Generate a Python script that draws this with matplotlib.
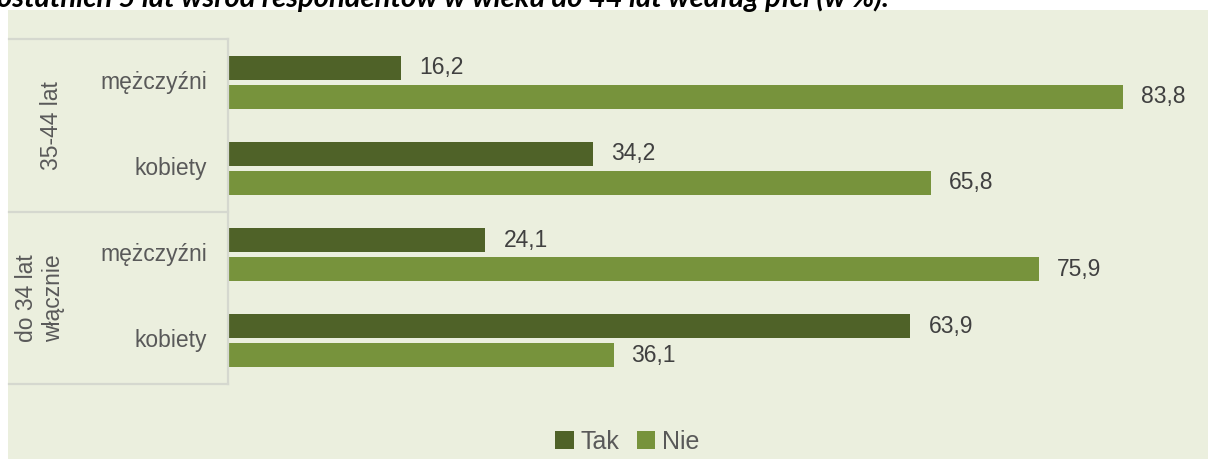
import matplotlib.pyplot as plt
from matplotlib.patches import Rectangle, Patch
from matplotlib.lines import Line2D
import numpy as np

plt.rcParams['font.family'] = ['Liberation Sans', 'DejaVu Sans']

# data (top to bottom)
groups = ['35-44 lat', 'do 34 lat\nwłącznie']
categories = ['mężczyźni', 'kobiety', 'mężczyźni', 'kobiety']
tak = [16.2, 34.2, 24.1, 63.9]
nie = [83.8, 65.8, 75.9, 36.1]
series_names = ['Tak', 'Nie']
colors = ['#4F6228', '#77933C']
title = 'ostatnich 5 lat wśród respondentów w wieku do 44 lat według płci (w %).'

W, H = 1208, 459
fig = plt.figure(figsize=(W / 100, H / 100), dpi=100)
fig.patch.set_facecolor('white')

# chart background
fig.patches.append(Rectangle((8 / W, 0), 1 - 8 / W, 1 - 10 / H,
                             transform=fig.transFigure, facecolor='#EBEFDE',
                             edgecolor='none', zorder=-5))

# cut-off title at the very top
fig.text(-3 / W, 1 - 7 / H, title, fontsize=21, fontweight='bold',
         fontstyle='italic', family=['Lato', 'DejaVu Sans'],
         va='baseline', ha='left', color='black')

left, right, top, bottom = 228, 1180, 39, 384
scale = 10.68  # pixels per percent
ax = fig.add_axes([left / W, 1 - bottom / H, (right - left) / W, (bottom - top) / H])
ax.set_facecolor('none')

y = np.arange(len(categories))
off, h = 0.168, 0.28
ax.barh(y - off, tak, height=h, color=colors[0])
ax.barh(y + off, nie, height=h, color=colors[1])
for yi, v in zip(y - off, tak):
    ax.annotate(f'{v:.1f}'.replace('.', ','), (v, yi), xytext=(18, 0),
                textcoords='offset pixels',
                va='center', ha='left', fontsize=16.5, color='#404040')
for yi, v in zip(y + off, nie):
    ax.annotate(f'{v:.1f}'.replace('.', ','), (v, yi), xytext=(18, 0),
                textcoords='offset pixels',
                va='center', ha='left', fontsize=16.5, color='#404040')

ax.set_xlim(0, (right - left) / scale)
ax.set_ylim(len(categories) - 0.5, -0.5)
ax.set_xticks([])
ax.set_yticks([])
for s in ax.spines.values():
    s.set_visible(False)

# category labels and group box on the left
tr = ax.get_yaxis_transform()
w = right - left
for yi, c in zip(y, categories):
    ax.text((207 - left) / w, yi, c, transform=tr, ha='right', va='center',
            fontsize=16.5, color='#595959')

lc = '#D5D8CF'
x0 = (9 - left) / w
x1 = (228 - left) / w
for yy in [-0.5, 1.5, 3.5]:
    ax.add_line(Line2D([x0, x1], [yy, yy], transform=tr, color=lc, lw=1.6,
                       clip_on=False))
ax.add_line(Line2D([x1, x1], [-0.5, 3.5], transform=tr, color=lc, lw=1.6,
                   clip_on=False))
ax.text((52 - left) / w, 0.5, groups[0], transform=tr, rotation=90,
        ha='center', va='center', fontsize=16.5, color='#595959')
ax.text((40 - left) / w, 2.5, groups[1], transform=tr, rotation=90,
        ha='center', va='center', fontsize=16.5, color='#595959',
        multialignment='center', linespacing=1.25)

handles = [Patch(facecolor=c) for c in colors]
fig.legend(handles, series_names, loc='center', bbox_to_anchor=(627 / W, 1 - 442 / H),
           ncol=2, frameon=False, fontsize=18, handlelength=0.75, handleheight=0.75,
           handletextpad=0.25, columnspacing=0.7, labelcolor='#595959')

fig.savefig('out.png', dpi=100, facecolor=fig.get_facecolor())
